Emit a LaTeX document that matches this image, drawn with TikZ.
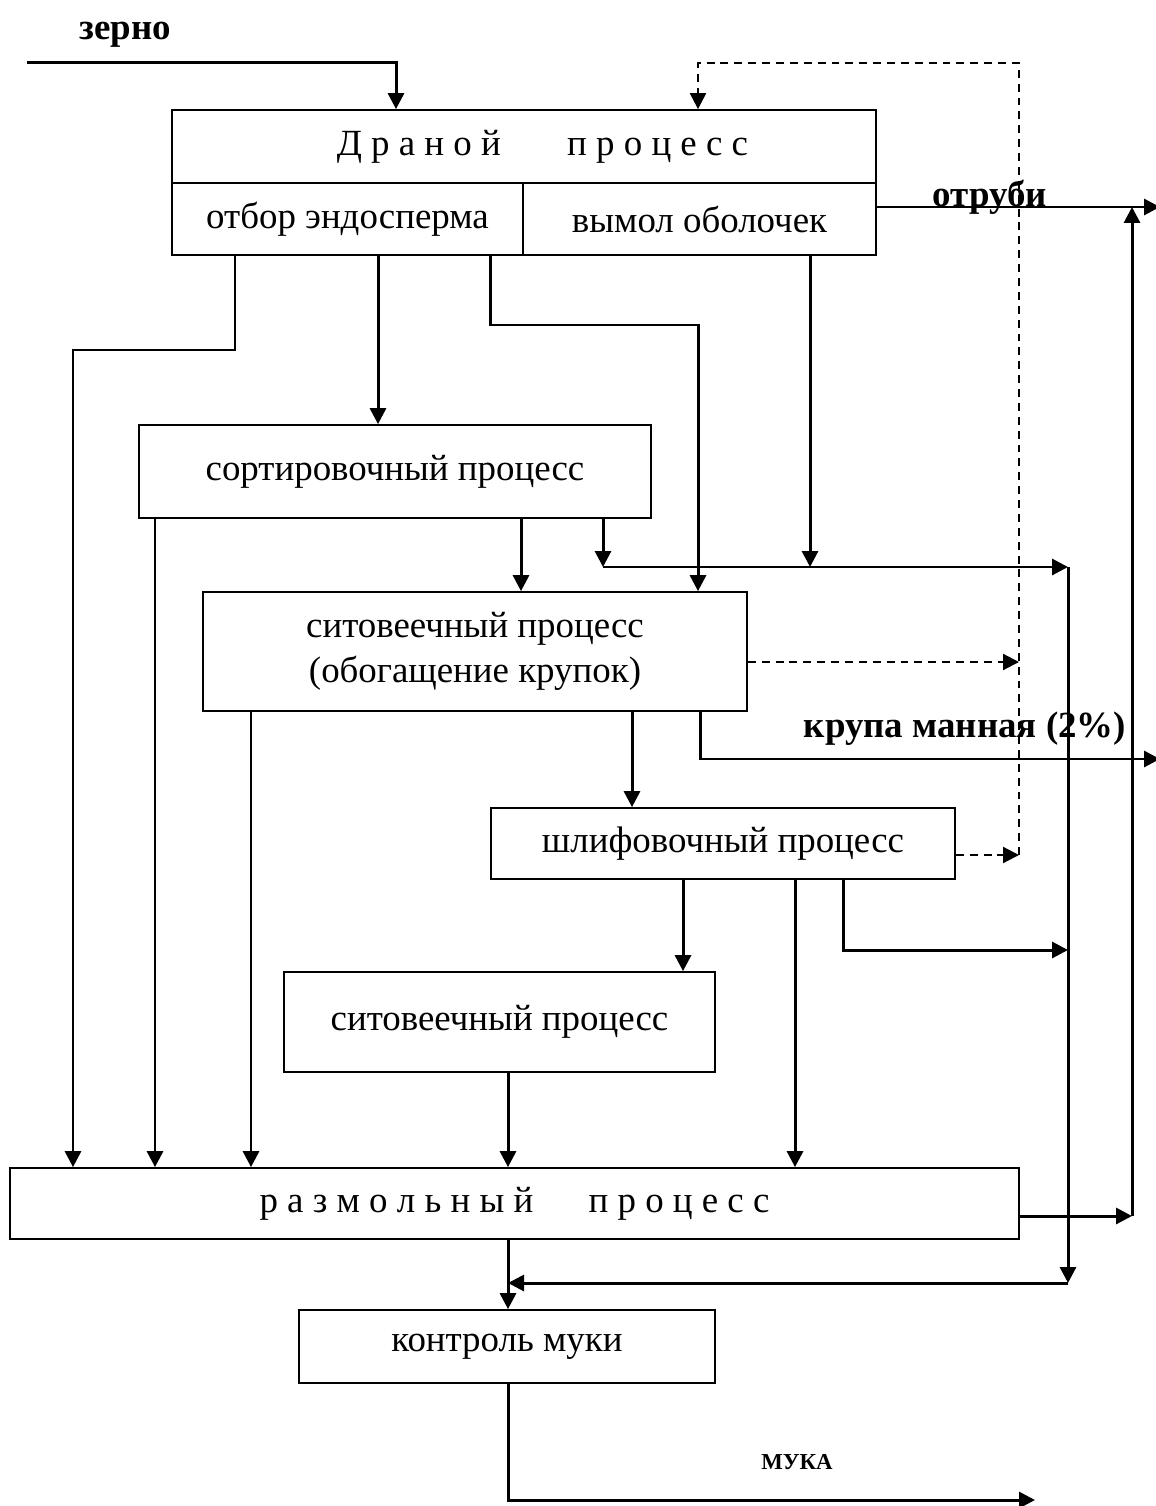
\documentclass[tikz,border=0pt]{standalone}
\usepackage{fontspec}
\setmainfont{Liberation Serif}
\usetikzlibrary{arrows.meta}

\tikzset{
	box/.style={draw, line width=1pt, inner sep=0pt, align=center, font=\fontsize{21}{26}\selectfont},
	flow/.style={line width=1.7pt, -{Triangle[length=0.32cm,width=0.32cm]}},
	ret/.style={flow, line width=1.2pt, dash pattern=on 4.5pt off 3.4pt},
	lbl/.style={font=\bfseries\fontsize{21}{25}\selectfont}
}

\begin{document}
\begin{tikzpicture}[x=0.02cm, y=-0.02cm]

		\useasboundingbox (0,0) rectangle (1155,1506);

		% boxes

		\node[box, minimum width=14.08cm, minimum height=1.46cm] (drano) at (524,146.5) {\hspace*{1em}Д р а н о й\hspace{1.8em}п р о ц е с с};

		\node[box, minimum width=7.02cm, minimum height=1.44cm] (endo) at (347.5,219) {отбор эндосперма};

		\node[box, minimum width=7.06cm, minimum height=1.44cm] (vymol) at (699.5,219) {вымол оболочек};

		\node[box, minimum width=10.24cm, minimum height=1.86cm] (sort) at (395,471.5) {сортировочный процесс};

		\node[box, minimum width=10.88cm, minimum height=2.38cm] (sito1) at (475,651.5) {ситовеечный процесс\\(обогащение крупок)};

		\node[box, minimum width=9.28cm, minimum height=1.42cm] (shlif) at (723,843.5) {шлифовочный процесс};

		\node[box, minimum width=8.62cm, minimum height=2cm] (sito2) at (499.5,1022) {ситовеечный процесс};

		\node[box, minimum width=20.18cm, minimum height=1.42cm] (razmol) at (514.5,1203.5) {р а з м о л ь н ы й\hspace{1.5em}п р о ц е с с};

		\node[box, minimum width=8.32cm, minimum height=1.46cm] (kontrol) at (507,1346.5) {контроль муки};

		% labels

		\node[lbl] (grain) at (125,35) {зерно};

		\node[lbl] (bran) at (990,197) {отруби};

		\node[lbl] (manna) at (965,729) {крупа манная (2\%)};

		\node[lbl, font=\bfseries\fontsize{13}{15}\selectfont] (flour) at (797,1462) {МУКА};

		% free ends

		\coordinate (zin) at (27,63);

		\coordinate (rettop) at (1019,63);

		\coordinate (retbot) at (1019,855);

		\coordinate (branend) at (1160,207);

		\coordinate (branup) at (1132,1216);

		\coordinate (collA) at (1068,567);

		\coordinate (collB) at (1068,1283);

		\coordinate (mannaend) at (1160,759);

		\coordinate (flourend) at (1035,1500);

		% connectors

		\draw[flow] (zin) -| (drano.north -| 396,0);

		\draw[ret] (retbot) -- (rettop) -| (drano.north -| 698,0);

		\draw[ret] (sito1.east |- 0,662) -- (retbot |- 0,662);

		\draw[ret] (shlif.east |- retbot) -- (retbot);

		\draw[flow] (vymol.east |- branend) -- (branend);

		\draw[flow] (razmol.east |- branup) -- (branup);

		\draw[flow] (branup) -- (branup |- branend);

		\draw[flow] (endo.south -| 235,0) -- (235,350) -| (razmol.north -| 73,0);

		\draw[flow] (endo.south -| 378,0) -- (sort.north -| 378,0);

		\draw[flow] (endo.south -| 490,0) -- (490,325) -| (sito1.north -| 698,0);

		\draw[flow] (vymol.south -| 810,0) -- (collA -| 810,0);

		\draw[flow] (sort.south -| 155,0) -- (razmol.north -| 155,0);

		\draw[flow] (sort.south -| 521,0) -- (sito1.north -| 521,0);

		\draw[flow] (sort.south -| 603,0) -- (collA -| 603,0);

		\draw[flow] (collA -| 603,0) -- (collA);

		\draw[flow] (collA) -- (collB);

		\draw[flow] (collB) -- (collB -| 508,0);

		\draw[flow] (sito1.south -| 251,0) -- (razmol.north -| 251,0);

		\draw[flow] (sito1.south -| 632,0) -- (shlif.north -| 632,0);

		\draw[flow] (sito1.south -| 700,0) |- (mannaend);

		\draw[flow] (shlif.south -| 683,0) -- (sito2.north -| 683,0);

		\draw[flow] (shlif.south -| 795,0) -- (razmol.north -| 795,0);

		\draw[flow] (shlif.south -| 843,0) |- (collA |- 0,950);

		\draw[flow] (sito2.south -| 508,0) -- (razmol.north -| 508,0);

		\draw[flow] (razmol.south -| 508,0) -- (kontrol.north -| 508,0);

		\draw[flow] (kontrol.south -| 508,0) |- (flourend);

	\end{tikzpicture}
\end{document}
